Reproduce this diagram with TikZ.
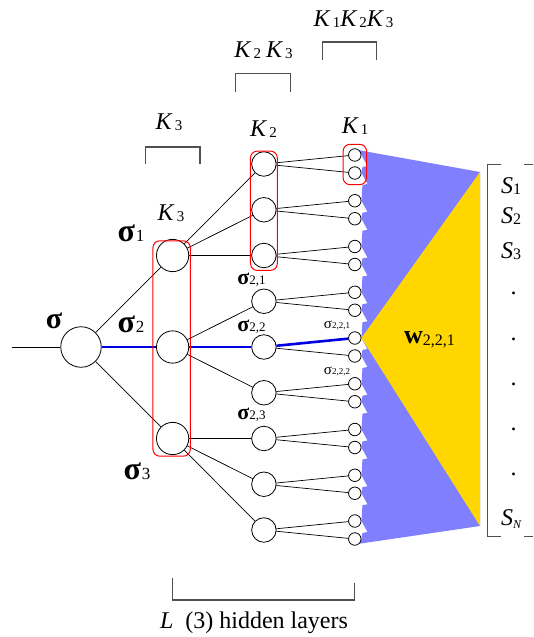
\documentclass[tikz,border=0pt]{standalone}
\usepackage{fontspec}
\setmainfont{Liberation Serif}
\usetikzlibrary{calc,backgrounds}

\definecolor{fanblue}{HTML}{8080FF}
\definecolor{wgold}{HTML}{FFD600}
\definecolor{pathblue}{HTML}{0000E0}
\definecolor{bracketgray}{HTML}{505050}

\newcommand\Ksub[1]{{\fontsize{24}{24}\selectfont\itshape K}\kern3pt\raisebox{-1.5pt}{\fontsize{15}{15}\selectfont #1}}
\newcommand\Ssub[1]{{\fontsize{24}{24}\selectfont\itshape S}\raisebox{-1pt}{\fontsize{16}{16}\selectfont #1}}
\newcommand\sigL[1]{{\fontsize{32}{32}\selectfont\bfseries σ}\kern1pt{\fontsize{17}{17}\selectfont #1}}
\newcommand\sigM[1]{{\fontsize{22}{22}\selectfont\bfseries σ}{\fontsize{13}{13}\selectfont #1}}
\newcommand\sigS[1]{{\fontsize{15}{15}\selectfont σ}{\fontsize{9}{9}\selectfont #1}}

\tikzset{
  unit/.style={circle,draw=black,fill=white,line width=0.8pt,inner sep=0pt},
  rootunit/.style={unit,minimum size=40.5pt},
  firstunit/.style={unit,minimum size=32.3pt},
  secondunit/.style={unit,minimum size=24.5pt},
  thirdunit/.style={unit,minimum size=12.5pt},
  link/.style={draw=black,line width=0.7pt},
  pathline/.style={draw=pathblue,line width=2.6pt},
  group/.style={draw=red,line width=1pt,rounded corners=7pt},
  brace/.style={draw=bracketgray,line width=1.1pt},
  lab/.style={inner sep=0pt,anchor=base}
}

\begin{document}
\begin{tikzpicture}[x=1pt,y=-1pt]
\useasboundingbox (0,0) rectangle (533,637);
% units:
\node[rootunit] (s) at (81,347) {};
\foreach \j/\y in {1/255.5,2/347,3/438.5}
  \node[firstunit] (a\j) at (172.6,\y) {};
\foreach \i in {1,...,9} {
  \pgfmathsetmacro\yb{347+(\i-5)*45.75}
  \pgfmathtruncatemacro\up{2*\i-1}
  \pgfmathtruncatemacro\dn{2*\i}
  \node[secondunit] (b\i) at (263.9,\yb) {};
  \node[thirdunit] (c\up) at (354.8,\yb-9) {};
  \node[thirdunit] (c\dn) at (354.8,\yb+9) {};
}
\coordinate (in) at (12,347);

% fan of weights behind the last layer:
\begin{pgfonlayer}{background}
\path[fill=fanblue] (480,172) -- (c1.north east)
  \foreach \i in {1,...,17}{ -- (c\i.east) -- ++(6,11) -- ++(-5,1) }
  -- (c18.east) -- (c18.south east) -- (480,526) -- cycle;
\path[fill=wgold] (480,172) -- (480,526) -- (c9.east) -- cycle;
\end{pgfonlayer}

% connections:
\draw[link] (in) -- (s);
\draw[link] (s) -- (a1);
\draw[link] (s) -- (a3);
\foreach \j in {1,2,3}
  \foreach \k in {1,2,3} {
    \pgfmathtruncatemacro\n{3*(\j-1)+\k}
    \ifnum\n=5 \else \draw[link] (a\j) -- (b\n); \fi
  }
\foreach \i in {1,...,18} {
  \pgfmathtruncatemacro\p{(\i+1)/2}
  \ifnum\i=9 \else \draw[link] (b\p) -- (c\i); \fi
}
\draw[pathline] (s) -- (a2);
\draw[pathline] (a2) -- (b5);
\draw[pathline] (b5) -- (c9);

% groups:
\draw[group] ($(a1.north west)+(-8,-3)$) rectangle ($(a3.south east)+(6,6)$);
\draw[group] ($(b1.north west)+(-4.5,-4)$) rectangle ($(b3.south east)+(4.5,6)$);
\draw[group] ($(c1.north west)+(-7,-6)$) rectangle ($(c2.south east)+(7,7)$);

% brackets:
\draw[brace] (145.6,164) -- (145.6,147) -- (200,147) -- (200,164);
\draw[brace] (235.7,91.7) -- (235.7,73.3) -- (290.8,73.3) -- (290.8,91.7);
\draw[brace] (322.4,60) -- (322.4,42) -- (376.9,42) -- (376.9,60);
\draw[brace] (172.8,577.7) -- (172.8,600) -- (354.8,600) -- (354.8,582.7);
\draw[brace] (501,164.3) -- (487.5,164.3) -- (487.5,536.7) -- (501,536.7);
\draw[brace] (524,164.3) -- (533,164.3);
\draw[brace] (524,536.7) -- (533,536.7);

% labels:
\node[lab] (tsig) at (54,328) {\fontsize{30}{30}\selectfont\bfseries σ};
\node[lab] (tsig1) at (131,241) {\sigL{1}};
\node[lab] (tsig2) at (131,332) {\sigL{2}};
\node[lab] (tsig3) at (137,479) {\sigL{3}};
\node[lab] (tsig21) at (251.5,284) {\sigM{2,1}};
\node[lab] (tsig22) at (251.5,331) {\sigM{2,2}};
\node[lab] (tsig23) at (251.5,419) {\sigM{2,3}};
\node[lab] (tsig221) at (337,328) {\sigS{2,2,1}};
\node[lab] (tsig222) at (337,374) {\sigS{2,2,2}};
\node[lab] (tw) at (429.5,343) {{\fontsize{26}{26}\selectfont\bfseries w}\raisebox{-2pt}{\fontsize{16}{16}\selectfont 2,2,1}};
\node[lab] (tkc) at (169,129) {\Ksub{3}};
\node[lab] (tkb) at (263.5,136) {\Ksub{2}};
\node[lab] (tka) at (355,133) {\Ksub{1}};
\node[lab] (tkl) at (171,220) {\Ksub{3}};
\node[lab] (tkbc) at (263.5,57) {\Ksub{2}\kern5pt\Ksub{3}};
\node[lab] (tkabc) at (353.5,26) {\Ksub{1}\Ksub{2}\Ksub{3}};
\node[lab,anchor=base west] (ts1) at (501,193) {\Ssub{1}};
\node[lab,anchor=base west] (ts2) at (501,223) {\Ssub{2}};
\node[lab,anchor=base west] (ts3) at (501,258) {\Ssub{3}};
\foreach \y [count=\d] in {294,340,385,430,475}
  \node[lab] (tdot\d) at (513.5,\y) {\fontsize{24}{24}\selectfont .};
\node[lab,anchor=base west] (tsn) at (501,525) {{\fontsize{24}{24}\selectfont\itshape S}\raisebox{-3pt}{\fontsize{12}{12}\selectfont\itshape N}};
\node[lab] (tlayers) at (254,628) {\fontsize{24}{24}\selectfont\textit{L}\ \ (3) hidden layers};
\end{tikzpicture}
\end{document}
